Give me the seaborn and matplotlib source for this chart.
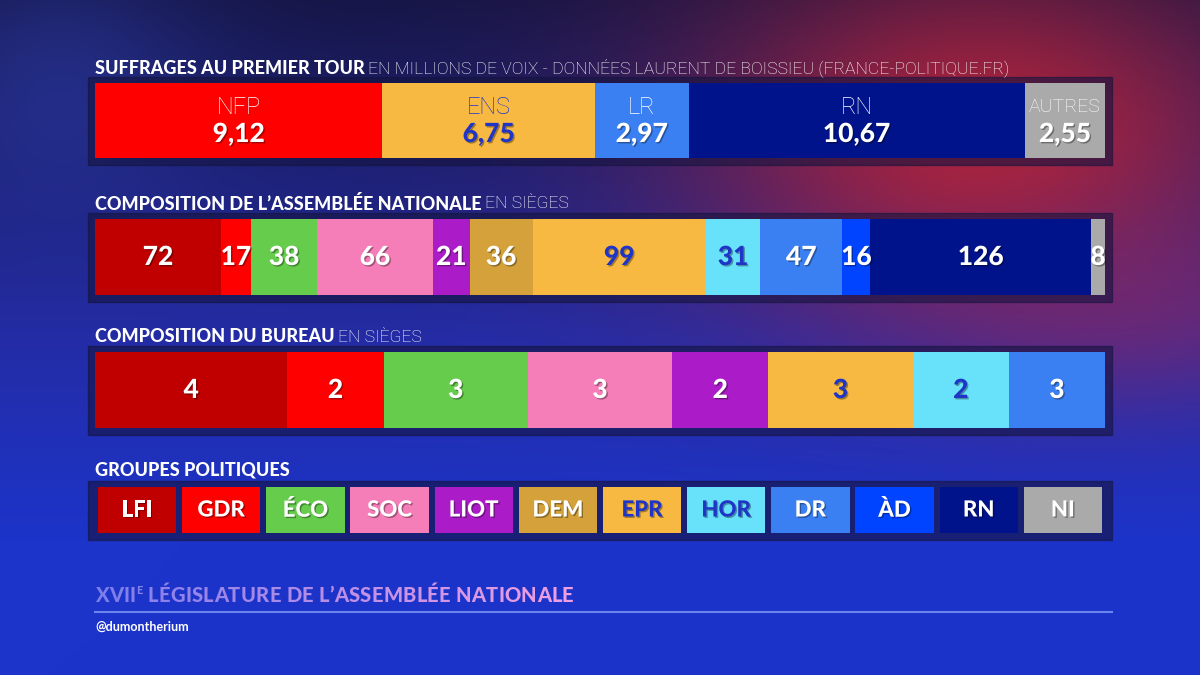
import numpy as np
import matplotlib
matplotlib.use("Agg")
import matplotlib.pyplot as plt
import matplotlib.patheffects as pe
from matplotlib.patches import Rectangle
import seaborn as sns

# --- data ---
vote_parties = ["NFP", "ENS", "LR", "RN", "AUTRES"]
vote_millions = [9.12, 6.75, 2.97, 10.67, 2.55]
vote_labels = ["9,12", "6,75", "2,97", "10,67", "2,55"]
vote_colors = ["#ff0000", "#f7b942", "#3b80f2", "#00138a", "#aaaaaa"]
vote_text = ["white", "#1f35c8", "white", "white", "white"]

groups = ["LFI", "GDR", "ÉCO", "SOC", "LIOT", "DEM", "EPR", "HOR", "DR", "ÀD", "RN", "NI"]
group_colors = ["#c00000", "#ff0000", "#66cc4c", "#f57db8", "#ab1cc8", "#d4a13a",
                "#f7b942", "#68e2fa", "#3b80f2", "#0044ff", "#00138a", "#aaaaaa"]
group_text = ["white"] * 6 + ["#1f35c8", "#1f35c8"] + ["white"] * 4
seats = [72, 17, 38, 66, 21, 36, 99, 31, 47, 16, 126, 8]

bureau_groups = ["LFI", "GDR", "ÉCO", "SOC", "LIOT", "EPR", "HOR", "DR"]
bureau_seats = [4, 2, 3, 3, 2, 3, 2, 3]
box_height = [1] * len(groups)

W, H = 1200, 675
FONT = ["Lato", "DejaVu Sans"]
LIGHT = ["Roboto", "DejaVu Sans"]

fig = plt.figure(figsize=(12, 6.75), dpi=100)
renderer = fig.canvas.get_renderer()

# background
yy, xx = np.mgrid[0:H, 0:W]
xn, yn = xx / W, yy / H
top = np.array([22, 22, 72]) / 255
mid = np.array([36, 44, 165]) / 255
bot = np.array([28, 52, 202]) / 255
t1 = np.clip(yn / 0.5, 0, 1)[..., None]
t2 = np.clip((yn - 0.5) / 0.3, 0, 1)[..., None]
img = top * (1 - t1) + mid * t1
img = img * (1 - t2) + bot * t2
red = np.array([185, 35, 55]) / 255
g = np.exp(-(((xn - 0.82) / 0.24) ** 2 + ((yn - 0.2) / 0.26) ** 2))[..., None] * 0.9
img = img * (1 - g) + red * g
g2 = np.exp(-(((xn - 0.95) / 0.2) ** 2 + ((yn - 0.45) / 0.15) ** 2))[..., None] * 0.5
img = img * (1 - g2) + np.array([140, 40, 100]) / 255 * g2
g3 = np.exp(-(((xn - 0.05) / 0.12) ** 2 + ((yn - 0.12) / 0.2) ** 2))[..., None] * 0.4
img = img * (1 - g3) + np.array([50, 70, 190]) / 255 * g3
bg = fig.add_axes([0, 0, 1, 1], zorder=-10)
bg.imshow(np.clip(img, 0, 1), aspect="auto", extent=[0, W, H, 0])
bg.axis("off")


def px_axes(x0, y0, x1, y1):
    return fig.add_axes([x0 / W, 1 - y1 / H, (x1 - x0) / W, (y1 - y0) / H])


def panel(x0, y0, x1, y1):
    fig.patches.append(Rectangle((x0 / W, 1 - y1 / H), (x1 - x0) / W, (y1 - y0) / H,
                                 transform=fig.transFigure, color="#15143f",
                                 alpha=0.6, zorder=-5))


shadow = [pe.withSimplePatchShadow(offset=(1, -1), shadow_rgbFace="black", alpha=0.35)]


def stacked(ax, values, colors, xmax):
    cum = np.cumsum(values)
    for i in range(len(values) - 1, -1, -1):
        sns.barplot(x=[cum[i]], y=["r"], color=colors[i], orient="h", width=1,
                    saturation=1, linewidth=0, ax=ax)
    ax.set_xlim(0, xmax)
    ax.set_ylim(-0.5, 0.5)
    ax.axis("off")
    starts = cum - np.array(values)
    return (starts + np.minimum(cum, xmax)) / 2


def title(y_px, bold, light):
    t = fig.text(95 / W, 1 - y_px / H, bold, family=FONT, weight="black", size=13,
                 color="white", va="center")
    if light:
        bb = t.get_window_extent(renderer)
        fig.text((bb.x1 + 3) / W, 1 - y_px / H, light, family=LIGHT, weight="light",
                 size=12.6, color="white", va="center")


# 1. votes
title(68, "SUFFRAGES AU PREMIER TOUR",
      "EN MILLIONS DE VOIX - DONNÉES LAURENT DE BOISSIEU (FRANCE-POLITIQUE.FR)")
panel(88, 77, 1112, 165)
ax1 = px_axes(95, 83, 1105, 158)
centers = stacked(ax1, vote_millions, vote_colors, sum(vote_millions))
for c, name, lab, col in zip(centers, vote_parties, vote_labels, vote_text):
    ax1.text(c, 0.68, name, transform=ax1.get_xaxis_transform(), ha="center", va="center",
             family=LIGHT, weight="light", size=17 if name != "AUTRES" else 14, color=col)
    ax1.text(c, 0.32, lab, transform=ax1.get_xaxis_transform(), ha="center", va="center",
             family=FONT, weight="black", size=19, color=col, path_effects=shadow)

# 2. assembly
title(204, "COMPOSITION DE L’ASSEMBLÉE NATIONALE", "EN SIÈGES")
panel(88, 213, 1112, 302)
ax2 = px_axes(95, 219, 1105, 295)
centers = stacked(ax2, seats, group_colors, sum(seats))
for c, s, col in zip(centers, seats, group_text):
    ax2.text(c, 0.5, str(s), transform=ax2.get_xaxis_transform(), ha="center", va="center",
             family=FONT, weight="black", size=19, color=col, path_effects=shadow)

# 3. bureau
title(337, "COMPOSITION DU BUREAU", "EN SIÈGES")
panel(88, 346, 1112, 435)
ax3 = px_axes(95, 352, 1105, 428)
bcolors = [group_colors[groups.index(b)] for b in bureau_groups]
btext = [group_text[groups.index(b)] for b in bureau_groups]
centers = stacked(ax3, bureau_seats, bcolors, 21)
for c, s, col in zip(centers, bureau_seats, btext):
    ax3.text(c, 0.5, str(s), transform=ax3.get_xaxis_transform(), ha="center", va="center",
             family=FONT, weight="black", size=19, color=col, path_effects=shadow)

# 4. legend
title(470, "GROUPES POLITIQUES", "")
panel(88, 481, 1112, 540)
ax4 = px_axes(95, 487, 1105, 533)
sns.barplot(x=groups, y=box_height, hue=groups, palette=group_colors, width=0.93,
            saturation=1, linewidth=0, legend=False, ax=ax4)
ax4.set_xlim(-0.5, len(groups) - 0.5)
ax4.set_ylim(0, 1)
ax4.axis("off")
for i, (gname, col) in enumerate(zip(groups, group_text)):
    ax4.text(i, 0.5, gname, ha="center", va="center", family=FONT, weight="black",
             size=16, color=col, path_effects=shadow)

# footer
grad0 = np.array([125, 125, 235]) / 255
grad1 = np.array([245, 160, 225]) / 255
footer = "XVII LÉGISLATURE DE L’ASSEMBLÉE NATIONALE"
x = 95.0
y = 1 - 595 / H
n = len(footer) + 1
space_w = 5.0
for k, ch in enumerate(footer):
    col = grad0 + (grad1 - grad0) * (k / n)
    if ch == " ":
        x += space_w
        continue
    t = fig.text(x / W, y, ch, family=FONT, weight="black", size=14.5, color=col, va="center")
    bb = t.get_window_extent(renderer)
    x = bb.x1 + 0.3
    if k == 3:
        t = fig.text(x / W, y + 5 / H, "E", family=FONT, weight="black", size=8,
                     color=col, va="center")
        x = t.get_window_extent(renderer).x1 + 0.5
fig.add_artist(plt.Line2D([95 / W, 1112 / W], [1 - 612 / H] * 2, color="#6a86ee", lw=1.5))
fig.text(95 / W, 1 - 627 / H, "@dumontherium", family=FONT, weight="bold", size=9,
         color="white", va="center")

fig.savefig("out.png", dpi=100)
